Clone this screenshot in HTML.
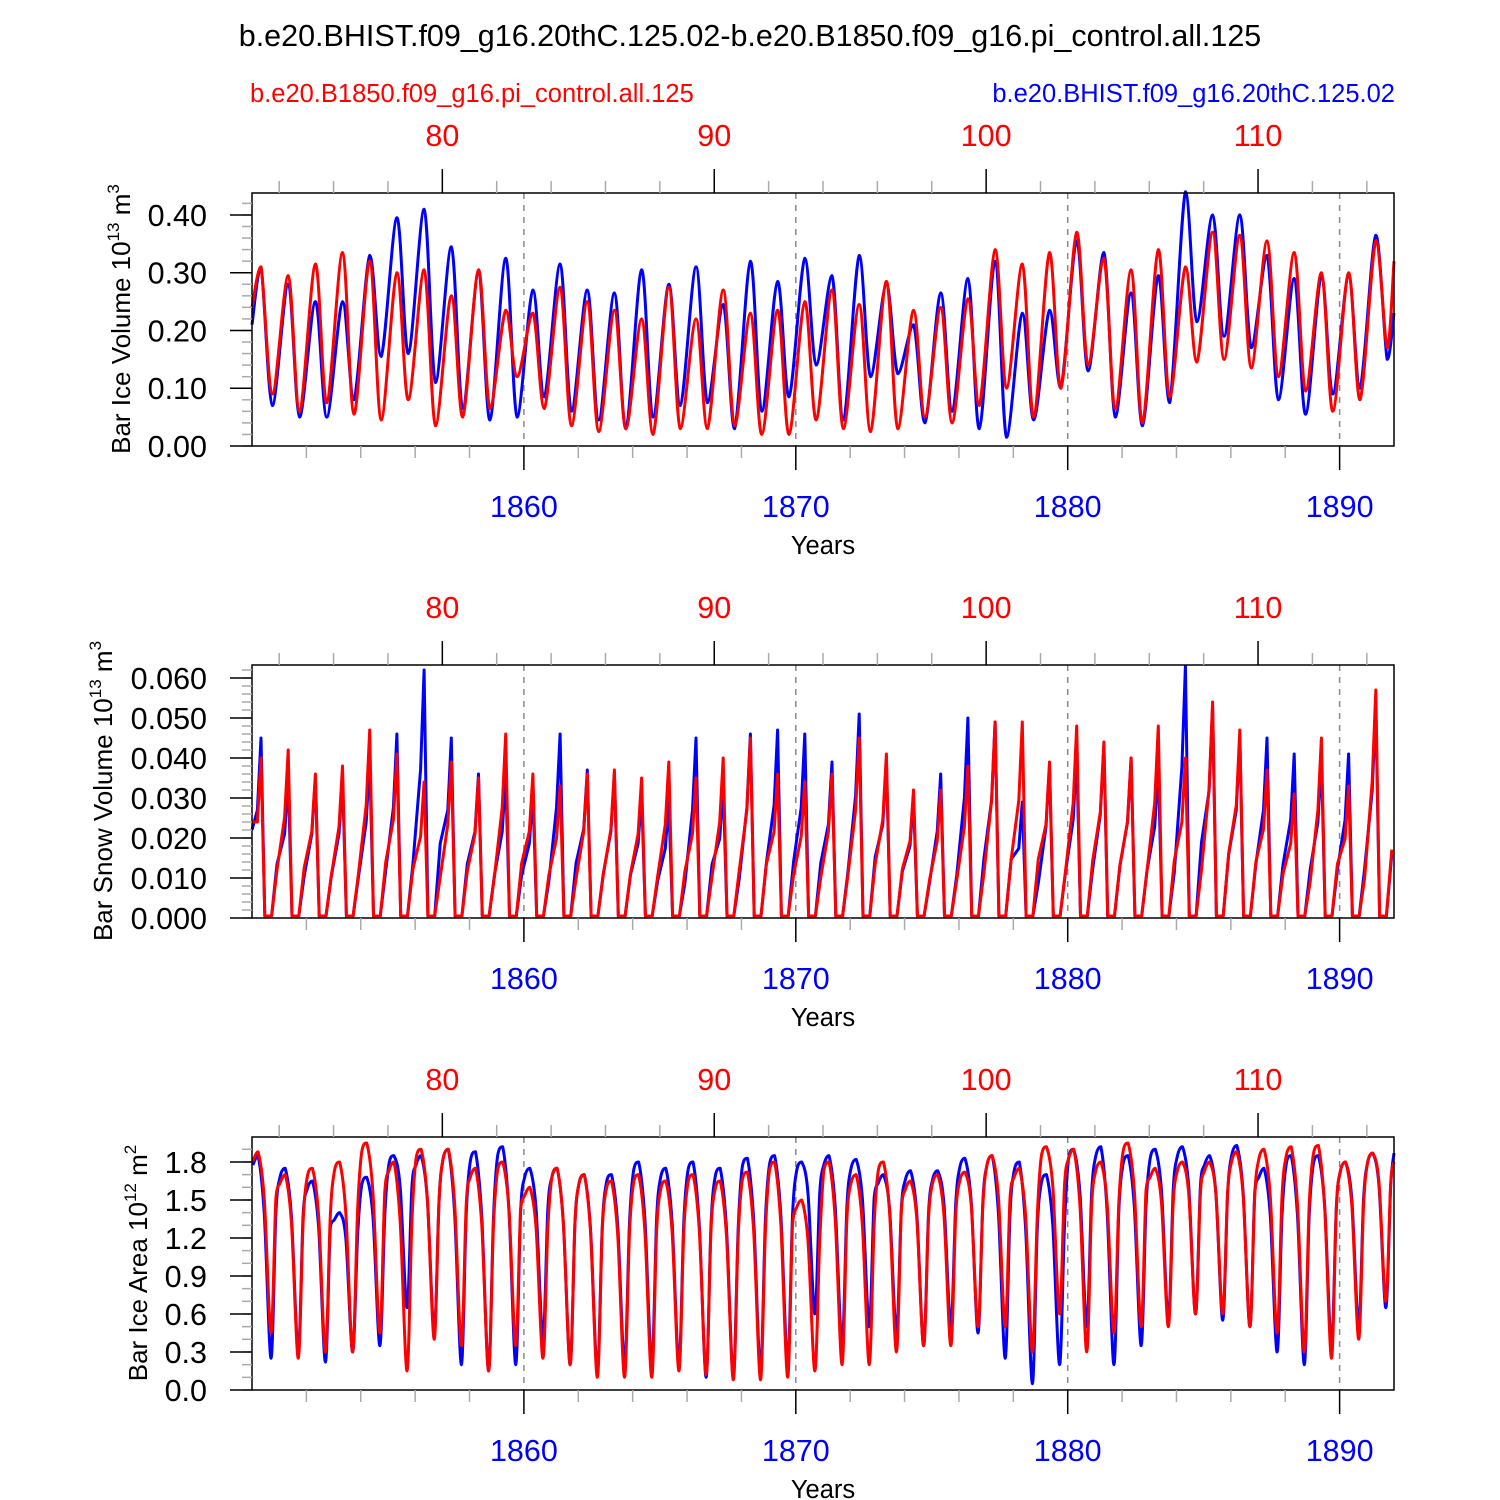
<!DOCTYPE html>
<html><head><meta charset="utf-8"><style>
html,body{margin:0;padding:0;background:#fff;}
svg{display:block;font-family:"Liberation Sans",sans-serif;}
</style></head><body>
<svg id="chart" width="1500" height="1500" viewBox="0 0 1500 1500" xmlns="http://www.w3.org/2000/svg">
<rect width="1500" height="1500" fill="#fff"/>
<text x="750" y="46" font-size="30.5" text-anchor="middle">b.e20.BHIST.f09_g16.20thC.125.02-b.e20.B1850.f09_g16.pi_control.all.125</text>
<text x="250" y="102" font-size="25.5" fill="#ff0000">b.e20.B1850.f09_g16.pi_control.all.125</text>
<text x="1395" y="102" font-size="25.5" fill="#0000ff" text-anchor="end">b.e20.BHIST.f09_g16.20thC.125.02</text>
</svg>
<script>
const years = [];
for (let y = 1850; y <= 1891; y++) years.push(y);
const bottomTicks = [1860, 1870, 1880, 1890];
const topTicks = [80, 90, 100, 110];

const volBluePeak = [0.31,0.28,0.25,0.25,0.33,0.395,0.41,0.345,0.30,0.325,0.27,0.315,0.27,0.265,0.305,0.28,0.31,0.245,0.32,0.285,0.325,0.295,0.33,0.28,0.21,0.265,0.29,0.32,0.23,0.235,0.355,0.335,0.265,0.295,0.44,0.40,0.40,0.33,0.29,0.295,0.295,0.365];
const volBlueTrough = [0.07,0.05,0.05,0.08,0.155,0.16,0.11,0.065,0.045,0.05,0.085,0.06,0.045,0.03,0.05,0.07,0.075,0.03,0.06,0.085,0.14,0.045,0.12,0.125,0.04,0.06,0.03,0.015,0.045,0.10,0.13,0.05,0.035,0.075,0.215,0.19,0.17,0.08,0.055,0.09,0.10,0.15];
const volRedPeak = [0.31,0.295,0.315,0.335,0.32,0.30,0.305,0.26,0.305,0.235,0.23,0.275,0.25,0.235,0.22,0.275,0.22,0.27,0.23,0.235,0.25,0.27,0.245,0.285,0.235,0.24,0.255,0.34,0.315,0.335,0.37,0.325,0.305,0.34,0.31,0.37,0.365,0.355,0.335,0.30,0.30,0.355];
const volRedTrough = [0.09,0.06,0.075,0.055,0.045,0.08,0.035,0.05,0.065,0.12,0.065,0.035,0.025,0.03,0.02,0.03,0.03,0.035,0.02,0.02,0.045,0.03,0.025,0.03,0.05,0.04,0.07,0.10,0.05,0.10,0.14,0.065,0.04,0.085,0.145,0.15,0.135,0.12,0.095,0.06,0.08,0.17];

const snowBluePeak = [0.045,0.035,0.035,0.035,0.040,0.046,0.062,0.045,0.036,0.036,0.031,0.046,0.037,0.036,0.031,0.029,0.045,0.033,0.046,0.047,0.046,0.039,0.051,0.039,0.030,0.036,0.050,0.049,0.029,0.038,0.041,0.043,0.040,0.038,0.063,0.053,0.045,0.045,0.041,0.040,0.041,0.053];
const snowRedPeak = [0.040,0.042,0.036,0.038,0.047,0.041,0.034,0.039,0.035,0.046,0.036,0.033,0.036,0.037,0.035,0.039,0.035,0.040,0.045,0.036,0.034,0.036,0.045,0.041,0.032,0.032,0.038,0.049,0.049,0.039,0.048,0.044,0.040,0.048,0.040,0.054,0.047,0.037,0.031,0.045,0.033,0.057];
const snowTrough = 0.0005;

const areaBluePeak = [1.85,1.75,1.65,1.40,1.68,1.85,1.85,1.9,1.88,1.92,1.75,1.75,1.7,1.7,1.8,1.75,1.8,1.75,1.83,1.85,1.8,1.85,1.82,1.7,1.73,1.73,1.83,1.85,1.8,1.7,1.9,1.92,1.85,1.9,1.92,1.85,1.93,1.75,1.85,1.85,1.8,1.87];
const areaBlueTrough = [0.25,0.3,0.22,0.3,0.35,0.65,0.45,0.2,0.15,0.2,0.4,0.2,0.15,0.2,0.2,0.2,0.1,0.1,0.15,0.2,0.6,0.35,0.5,0.45,0.35,0.5,0.45,0.25,0.05,0.2,0.5,0.2,0.35,0.55,0.6,0.55,0.5,0.3,0.2,0.35,0.5,0.65];
const areaRedPeak = [1.88,1.70,1.75,1.8,1.95,1.8,1.9,1.9,1.75,1.8,1.6,1.75,1.7,1.65,1.7,1.65,1.7,1.65,1.72,1.8,1.5,1.8,1.7,1.8,1.65,1.7,1.72,1.85,1.75,1.92,1.9,1.8,1.95,1.75,1.8,1.8,1.88,1.9,1.92,1.93,1.8,1.87];
const areaRedTrough = [0.45,0.25,0.3,0.3,0.45,0.15,0.4,0.35,0.15,0.35,0.25,0.2,0.1,0.1,0.1,0.15,0.12,0.08,0.08,0.1,0.15,0.2,0.2,0.3,0.35,0.35,0.5,0.5,0.3,0.6,0.3,0.45,0.5,0.5,0.6,0.6,0.5,0.45,0.3,0.25,0.4,0.7];

const volTicks = ["0.00","0.10","0.20","0.30","0.40"];
const snowTicks = ["0.000","0.010","0.020","0.030","0.040","0.050","0.060"];
const areaTicks = ["0.0","0.3","0.6","0.9","1.2","1.5","1.8"];

const NS = "http://www.w3.org/2000/svg";
const svg = document.getElementById('chart');
const X0 = 252, X1 = 1394, YEAR0 = 1850, YEAR1 = 1892;
function xs(t){ return X0 + (t - YEAR0) / (YEAR1 - YEAR0) * (X1 - X0); }
function mk(tag, attrs, parent){
  const e = document.createElementNS(NS, tag);
  for (const k in attrs) e.setAttribute(k, attrs[k]);
  (parent || svg).appendChild(e);
  return e;
}
// smooth path through screen points (Catmull-Rom, y clamped to neighbours)
function smoothPath(P){
  let d = 'M' + P[0][0].toFixed(1) + ',' + P[0][1].toFixed(1);
  for (let i = 0; i < P.length - 1; i++) {
    const p0 = P[Math.max(0, i - 1)], p1 = P[i], p2 = P[i + 1], p3 = P[Math.min(P.length - 1, i + 2)];
    const k = 0.16;
    let c1x = p1[0] + (p2[0] - p0[0]) * k, c1y = p1[1] + (p2[1] - p0[1]) * k;
    let c2x = p2[0] - (p3[0] - p1[0]) * k, c2y = p2[1] - (p3[1] - p1[1]) * k;
    const lo = Math.min(p1[1], p2[1]), hi = Math.max(p1[1], p2[1]);
    c1y = Math.min(hi, Math.max(lo, c1y)); c2y = Math.min(hi, Math.max(lo, c2y));
    d += 'C' + c1x.toFixed(1) + ',' + c1y.toFixed(1) + ' ' + c2x.toFixed(1) + ',' + c2y.toFixed(1) + ' ' + p2[0].toFixed(1) + ',' + p2[1].toFixed(1);
  }
  return d;
}

function panel(cfg){
  const top = cfg.top, bot = top + 253;
  const ys = v => bot - (v - cfg.ymin) / (cfg.ymax - cfg.ymin) * (bot - top);
  const g = mk('g', {});
  
  
  bottomTicks.forEach(yr => {
    const l = mk('line', {x1: xs(yr), x2: xs(yr), y1: top, y2: bot, stroke: '#888', 'stroke-width': 1.5, 'stroke-dasharray': '6,6'}, g);
    
    
  });
  function drawSeries(peaks, troughs, color, nm){
    const pts = [];
    if (cfg.kind === 'snow') {
      pts.push([YEAR0, cfg.start[nm]]);
      years.forEach((yr, i) => {
        pts.push([yr + 0.2, peaks[i] * 0.6]);
        pts.push([yr + 0.33, peaks[i]]);
        pts.push([yr + 0.47, troughs]);
        pts.push([yr + 0.72, troughs]);
        pts.push([yr + 0.92, peaks[i] * 0.3]);
      });
    } else if (cfg.kind === 'area') {
      years.forEach((yr, i) => {
        pts.push([yr + 0.03, peaks[i] * 0.96]);
        pts.push([yr + 0.22, peaks[i]]);
        pts.push([yr + 0.45, (peaks[i] + troughs[i]) / 2 + 0.35]);
        pts.push([yr + 0.7, troughs[i]]);
        pts.push([yr + 0.88, (peaks[i] + troughs[i]) / 2 + 0.35]);
      });
      pts.push([YEAR1, cfg.end[nm]]);
    } else {
      pts.push([YEAR0, cfg.start[nm]]);
      years.forEach((yr, i) => {
        pts.push([yr + 0.33, peaks[i]]);
        pts.push([yr + 0.75, troughs[i]]);
      });
      pts.push([YEAR1, cfg.end[nm]]);
    }
    const P = pts.filter(p => p[0] >= YEAR0 && p[0] <= YEAR1).map(p => [xs(p[0]), ys(p[1])]);
    const d = cfg.kind === 'snow' ? P.map((p, i) => (i ? 'L' : 'M') + p[0].toFixed(1) + ',' + p[1].toFixed(1)).join('') : smoothPath(P);
    const path = mk('path', {d: d, fill: 'none', stroke: color, 'stroke-width': 3, 'stroke-linejoin': 'round'}, g);
    
    
  }
  drawSeries(cfg.bp, cfg.bt, '#0000ff', 'hist');
  drawSeries(cfg.rp, cfg.rt, '#ff0000', 'control');
  const fr = mk('rect', {x: X0, y: top, width: X1 - X0, height: bot - top, fill: 'none', stroke: '#000', 'stroke-width': 1.5}, g);
  
  
  for (let yr = 1852; yr <= 1890; yr += 2) {
    if (bottomTicks.indexOf(yr) >= 0) continue;
    mk('line', {x1: xs(yr), x2: xs(yr), y1: bot, y2: bot + 12, stroke: '#aaa', 'stroke-width': 1.5}, g);
  }
  bottomTicks.forEach(yr => {
    mk('line', {x1: xs(yr), x2: xs(yr), y1: bot, y2: bot + 24, stroke: '#000', 'stroke-width': 1.5}, g);
    const t = mk('text', {x: xs(yr), y: bot + 71, 'font-size': 30.5, fill: '#0000ff', 'text-anchor': 'middle'}, g);
    t.textContent = yr;
    
    
  });
  const xt = mk('text', {x: 823, y: bot + 108, 'font-size': 25.5, 'text-anchor': 'middle'}, g);
  xt.textContent = 'Years';
  
  
  for (let v = 74; v <= 114; v += 2) {
    if (topTicks.indexOf(v) >= 0) continue;
    mk('line', {x1: xs(v + 1777), x2: xs(v + 1777), y1: top, y2: top - 12, stroke: '#aaa', 'stroke-width': 1.5}, g);
  }
  topTicks.forEach(v => {
    mk('line', {x1: xs(v + 1777), x2: xs(v + 1777), y1: top, y2: top - 24, stroke: '#000', 'stroke-width': 1.5}, g);
    const t = mk('text', {x: xs(v + 1777), y: top - 47, 'font-size': 30.5, fill: '#ff0000', 'text-anchor': 'middle'}, g);
    t.textContent = v;
    
    
  });
  for (let v = cfg.ymin; v <= cfg.ymax + 1e-9; v += cfg.minor) {
    mk('line', {x1: X0, x2: X0 - 10, y1: ys(v), y2: ys(v), stroke: '#aaa', 'stroke-width': 1.5}, g);
  }
  cfg.ticks.forEach(lbl => {
    const v = parseFloat(lbl);
    mk('line', {x1: X0, x2: X0 - 22, y1: ys(v), y2: ys(v), stroke: '#000', 'stroke-width': 1.5}, g);
    const t = mk('text', {x: 207, y: ys(v) + 11, 'font-size': 30.5, 'text-anchor': 'end'}, g);
    t.textContent = lbl;
    
    
  });
  const yt = mk('text', {transform: 'translate(' + cfg.titleX + ',' + (top + 126) + ') rotate(-90)', 'font-size': 26, 'text-anchor': 'middle'}, g);
  yt.innerHTML = cfg.title + ' 10<tspan font-size="17" dy="-11">' + cfg.exp + '</tspan><tspan dy="11"> m</tspan><tspan font-size="17" dy="-11">' + cfg.unitExp + '</tspan>';
  
  
}

panel({name: 'ice-volume-panel', kind: 'vol', top: 193, ymin: 0, ymax: 0.438, minor: 0.02, ticks: volTicks,
  bp: volBluePeak, bt: volBlueTrough, rp: volRedPeak, rt: volRedTrough,
  start: {hist: 0.21, control: 0.24}, end: {hist: 0.23, control: 0.32},
  title: 'Bar Ice Volume', exp: '13', unitExp: '3', titleX: 130});
panel({name: 'snow-volume-panel', kind: 'snow', top: 665, ymin: 0, ymax: 0.06325, minor: 0.002, ticks: snowTicks,
  bp: snowBluePeak, bt: snowTrough, rp: snowRedPeak, rt: snowTrough,
  start: {hist: 0.022, control: 0.024},
  title: 'Bar Snow Volume', exp: '13', unitExp: '3', titleX: 112});
panel({name: 'ice-area-panel', kind: 'area', top: 1137, ymin: 0, ymax: 1.997, minor: 0.1, ticks: areaTicks,
  bp: areaBluePeak, bt: areaBlueTrough, rp: areaRedPeak, rt: areaRedTrough,
  end: {hist: 1.87, control: 1.8},
  title: 'Bar Ice Area', exp: '12', unitExp: '2', titleX: 147});
</script>
</body></html>
